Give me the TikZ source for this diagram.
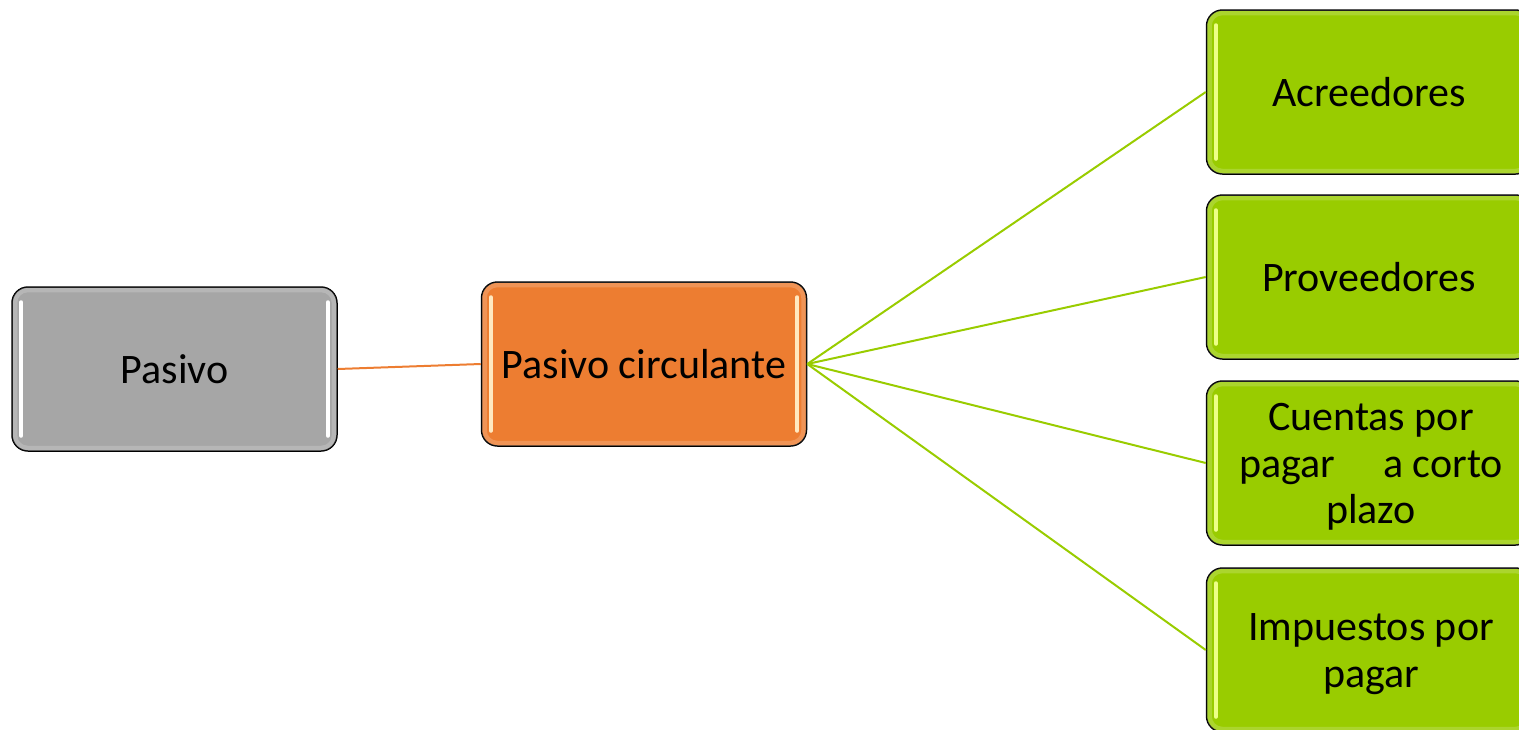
\documentclass[tikz,border=0pt]{standalone}
\usepackage{fontspec}
\setmainfont{Carlito}
\definecolor{boxgray}{HTML}{A6A6A6}
\definecolor{boxorange}{HTML}{ED7D31}
\definecolor{boxgreen}{HTML}{99CC00}
\definecolor{hlorange}{HTML}{FFE8C0}
\definecolor{hlgreen}{HTML}{EEFF88}
\newcommand{\glossbox}[2]{%
  \draw[white, opacity=.18, line width=5pt, rounded corners=13pt]
    ([shift={(3.5pt,-3.5pt)}]#1.north west) rectangle ([shift={(-3.5pt,3.5pt)}]#1.south east);
  \draw[line width=4pt, line cap=round, #2]
    ([xshift=10pt,yshift=-16pt]#1.north west) -- ([xshift=10pt,yshift=16pt]#1.south west);
  \draw[line width=4pt, line cap=round, #2]
    ([xshift=-10pt,yshift=-16pt]#1.north east) -- ([xshift=-10pt,yshift=16pt]#1.south east);
}
\begin{document}
\begin{tikzpicture}[x=1pt,y=-1pt,
  box/.style={draw=black, line width=1.5pt, rounded corners=16pt,
    minimum width=325pt, minimum height=164pt, align=center, inner sep=0pt,
    font=\fontsize{42}{46.5}\selectfont, text=black},
  boxtext/.style={align=center, inner sep=0pt,
    font=\fontsize{42}{46.5}\selectfont, text=black},
  link/.style={line width=2pt}]
\useasboundingbox (0,0) rectangle (1519,729);
\clip (0,0) rectangle (1519,729);
\node[box, fill=boxgray] (pas) at (174.5,369) {Pasivo};
\node[box, fill=boxorange] (pc) at (644,364) {Pasivo circulante};
\node[box, fill=boxgreen] (acr) at (1369,92) {Acreedores};
\node[box, fill=boxgreen] (pro) at (1369,277) {Proveedores};
\node[box, fill=boxgreen] (cue) at (1369,463) {};
\node[box, fill=boxgreen] (imp) at (1369,650) {};
\glossbox{pas}{white}
\glossbox{pc}{hlorange}
\glossbox{acr}{hlgreen}
\glossbox{pro}{hlgreen}
\glossbox{cue}{hlgreen}
\glossbox{imp}{hlgreen}
\node[boxtext] (cuet) at ([xshift=2pt,yshift=-4pt]cue.center) {Cuentas por\\pagar\hspace{48pt}a corto\\plazo};
\node[boxtext] (impt) at ([xshift=2pt,yshift=-4pt]imp.center) {Impuestos por\\pagar};
\draw[link, boxorange] (pas.east) -- (pc.west);
\draw[link, boxgreen] (pc.east) -- (acr.west);
\draw[link, boxgreen] (pc.east) -- (pro.west);
\draw[link, boxgreen] (pc.east) -- (cue.west);
\draw[link, boxgreen] (pc.east) -- (imp.west);
\end{tikzpicture}
\end{document}
